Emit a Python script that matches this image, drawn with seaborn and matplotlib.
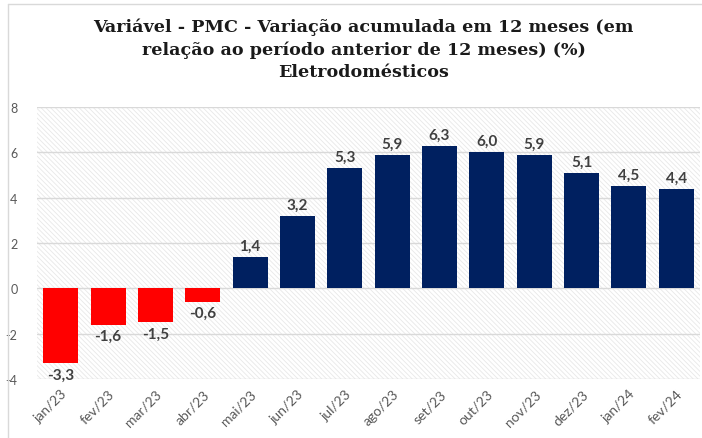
import matplotlib
matplotlib.use('Agg')
import matplotlib.pyplot as plt
from matplotlib.lines import Line2D
import seaborn as sns
import pandas as pd

# Dados do gráfico (PMC - eletrodomésticos, variação acumulada em 12 meses)
meses = ['jan/23', 'fev/23', 'mar/23', 'abr/23', 'mai/23', 'jun/23', 'jul/23',
         'ago/23', 'set/23', 'out/23', 'nov/23', 'dez/23', 'jan/24', 'fev/24']
variacao = [-3.3, -1.6, -1.5, -0.6, 1.4, 3.2, 5.3, 5.9, 6.3, 6.0, 5.9, 5.1, 4.5, 4.4]
y_ticks = [-4, -2, 0, 2, 4, 6, 8]

df = pd.DataFrame({'mes': meses, 'valor': variacao})
df['sinal'] = ['neg' if v < 0 else 'pos' for v in variacao]

sns.set_style('white')
plt.rcParams['font.family'] = ['Lato', 'DejaVu Sans']
plt.rcParams['hatch.linewidth'] = 0.6

fig = plt.figure(figsize=(7.02, 4.39), dpi=100)
ax = fig.add_axes([37 / 702, 1 - 380 / 439, 663 / 702, (380 - 108) / 439])

# fundo hachurado (bem claro) da área de plotagem
ax.patch.set_facecolor('white')
ax.patch.set_hatch('\\' * 7)
ax.patch.set_edgecolor('#e8e8e8')

sns.barplot(data=df, x='mes', y='valor', hue='sinal',
            palette={'neg': '#ff0000', 'pos': '#002060'}, saturation=1,
            dodge=False, legend=False, width=0.74, linewidth=0,
            ax=ax, zorder=3)

ax.set_ylim(-4, 8)
ax.set_xlim(-0.5, len(meses) - 0.5)
ax.set_yticks(y_ticks)
ax.set_yticklabels([str(t) for t in y_ticks], color='#595959', fontsize=9)
ax.yaxis.grid(True, color='#d9d9d9', linewidth=1, zorder=0)
ax.set_axisbelow(True)
ax.set_xlabel('')
ax.set_ylabel('')
ax.tick_params(axis='x', length=0, pad=6)
ax.tick_params(axis='y', length=0, pad=14)
for lbl in ax.get_xticklabels():
    lbl.set_rotation(45)
    lbl.set_ha('right')
    lbl.set_rotation_mode('anchor')
    lbl.set_color('#595959')
    lbl.set_fontsize(10)
for s in ax.spines.values():
    s.set_visible(False)

# rótulos dos valores
for i, v in enumerate(variacao):
    txt = f'{v:.1f}'.replace('.', ',')
    if v >= 0:
        ax.annotate(txt, (i, v), xytext=(0, 3), textcoords='offset points',
                    ha='center', va='bottom', fontsize=11, fontweight='bold', color='#404040')
    else:
        ax.annotate(txt, (i, v), xytext=(0, -3), textcoords='offset points',
                    ha='center', va='top', fontsize=11, fontweight='bold', color='#404040')

fig.text(0.518, 1 - 18 / 439,
         'Variável - PMC - Variação acumulada em 12 meses (em\n'
         'relação ao período anterior de 12 meses) (%)\nEletrodomésticos',
         ha='center', va='top', fontsize=12.6, fontweight='bold',
         family='DejaVu Serif', linespacing=1.42, color='#1a1a1a')

# moldura clara do gráfico
fig.add_artist(Line2D([8 / 702, 8 / 702], [0, 1 - 5 / 439], color='#d9d9d9', lw=1))
fig.add_artist(Line2D([8 / 702, 1], [1 - 5 / 439, 1 - 5 / 439], color='#d9d9d9', lw=1))

fig.savefig('out.png', dpi=100)
